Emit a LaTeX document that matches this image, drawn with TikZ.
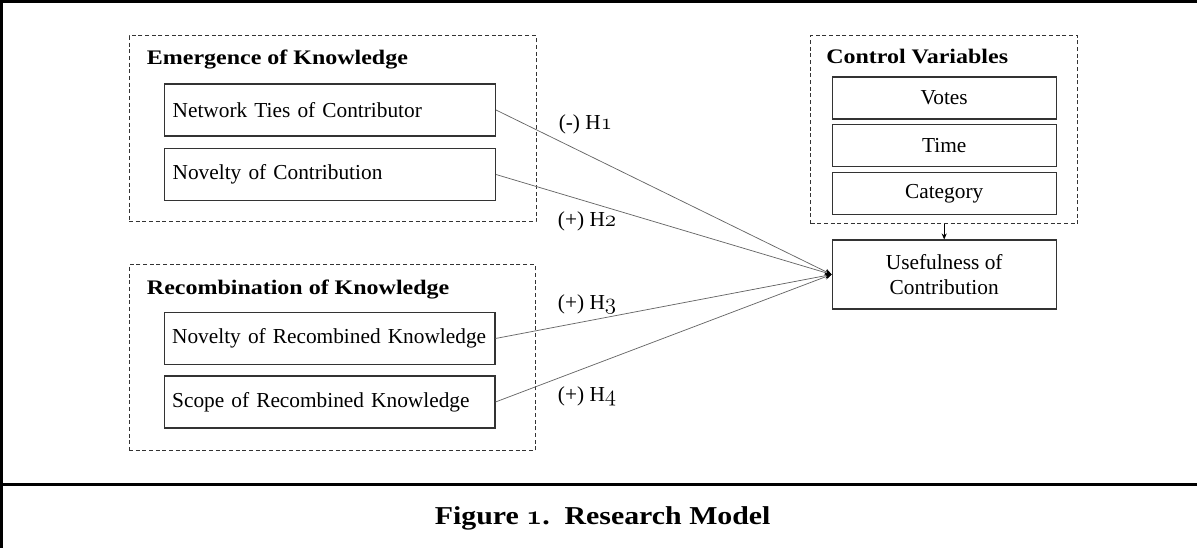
\documentclass[tikz,border=0pt]{standalone}
\usepackage{fontspec}
\setmainfont{Liberation Serif}
\newfontfamily\titlefont[FakeStretch=1.16]{Liberation Serif}
\newcommand\osnum[1]{{\usefont{OML}{cmm}{m}{it}#1}}
\newcommand\osnumb[1]{{\usefont{OML}{cmm}{b}{it}#1}}
\usetikzlibrary{arrows.meta}
\begin{document}
\begin{tikzpicture}[x=0.75pt,y=-0.75pt,
  txt/.style={font=\fontsize{16}{19}\selectfont},
  leftbox/.style={txt, draw=black!80, line width=0.8pt, text width=236pt, inner xsep=6.1pt,
    minimum height=39pt, align=left},
  ctrlbox/.style={txt, draw=black!80, line width=0.8pt, minimum width=168pt, minimum height=31.5pt,
    inner sep=0pt, align=center},
  groupbox/.style={draw=black!80, dash pattern=on 3pt off 2pt, line width=0.75pt, inner sep=0pt},
  grouptitle/.style={anchor=base west, inner sep=0pt, font=\titlefont\bfseries\fontsize{15.5}{18}\selectfont},
  hyp/.style={txt, anchor=base west, inner sep=0pt},
  conn/.style={draw=black!60, line width=0.55pt, -{Stealth[length=5pt,width=4.2pt,color=black]}},
  ctrlarrow/.style={draw=black, line width=0.55pt, -{Stealth[length=4.5pt,width=3.8pt]}},
  frame/.style={draw=black, line width=2.25pt}
]
\useasboundingbox (0,0) rectangle (1197,548);
% outer frame
\draw[frame] (1.5,548) -- (1.5,1.5) -- (1197,1.5);
\draw[draw=black, line width=1.9pt] (0,484.5) -- (1197,484.5);

% group boxes
\node[groupbox, minimum width=305.25pt, minimum height=139.5pt] (emg) at (332.5,129) {};
\node[groupbox, minimum width=304.5pt, minimum height=139.5pt] (rec) at (332,358) {};
\node[groupbox, minimum width=200.25pt, minimum height=141.2pt] (ctrl) at (944.2,129.85) {};

\node[grouptitle] (emgt) at (146.7,65) {Emergence of Knowledge};
\node[grouptitle] (rect) at (146.7,295) {Recombination of Knowledge};
\node[grouptitle] (ctrlt) at (826,64) {Control Variables};

% variable boxes
\node[leftbox] (net) at (330,110) {Network Ties of Contributor};
\node[leftbox] (nov) at (330,174.5) {Novelty of Contribution};
\node[leftbox] (nrk) at (329.5,338.5) {Novelty of Recombined Knowledge};
\node[leftbox] (srk) at (329.5,402) {Scope of Recombined Knowledge};

\node[ctrlbox] (votes) at (944.2,98) {Votes};
\node[ctrlbox] (time) at (944.2,145.7) {Time};
\node[ctrlbox] (cat) at (944.2,193.3) {Category};

\node[ctrlbox, minimum height=51.75pt, font=\fontsize{16}{18.2}\selectfont] (use) at (944.2,274.5) {Usefulness of\\Contribution};

% connectors
\draw[conn] (net.east) -- (use.west);
\draw[conn] (nov.east) -- (use.west);
\draw[conn] (nrk.east) -- (use.west);
\draw[conn] (srk.east) -- (use.west);
\draw[ctrlarrow] (ctrl.south) -- (use.north);

% hypothesis labels
\node[hyp] (h1) at (558.5,129.5) {(-) H\osnum{1}};
\node[hyp] (h2) at (557.7,226.7) {(+) H\osnum{2}};
\node[hyp] (h3) at (557.7,309.5) {(+) H\osnum{3}};
\node[hyp] (h4) at (557.7,401.5) {(+) H\osnum{4}};

% caption
\node[anchor=base, inner sep=0pt, font=\titlefont\bfseries\fontsize{19.3}{22}\selectfont] (cap) at (602.7,525) {Figure \osnumb{1}.\ \ Research Model};
\end{tikzpicture}
\end{document}
